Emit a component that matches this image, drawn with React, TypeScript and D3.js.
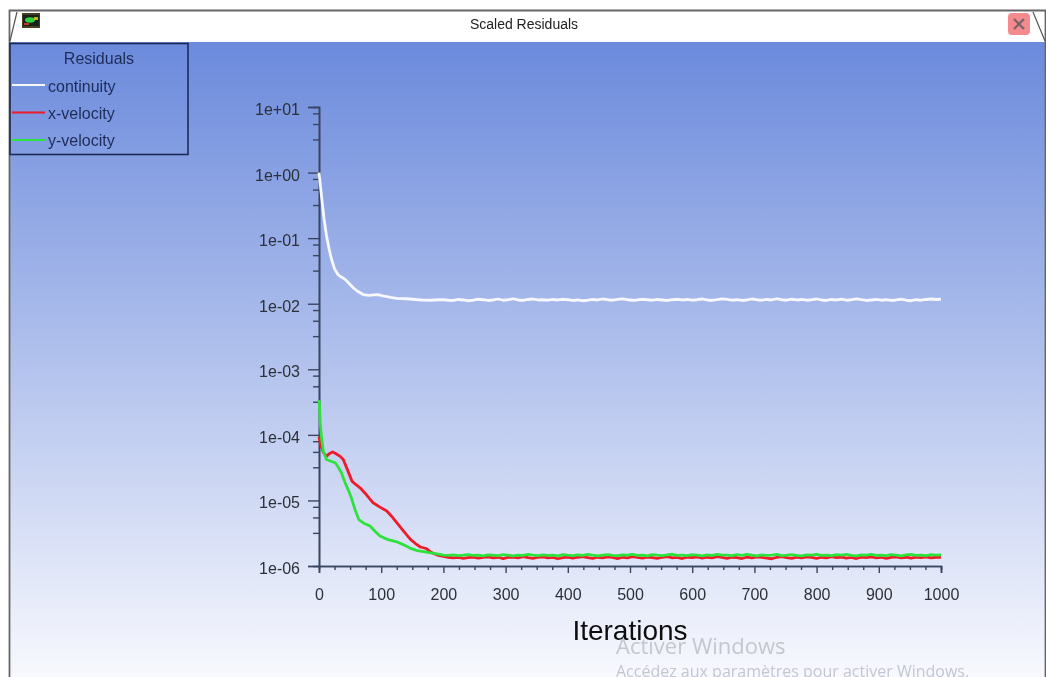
import React, { useRef, useEffect } from 'react'
import * as d3 from 'd3'

const WIDTH = 1046
const HEIGHT = 677
const FONT = '"Liberation Sans", Arial, sans-serif'

const xTicks = [0, 100, 200, 300, 400, 500, 600, 700, 800, 900, 1000]
const xMinorSteps = [25, 50, 75]
const yTicks = [1e1, 1e0, 1e-1, 1e-2, 1e-3, 1e-4, 1e-5, 1e-6]
const yMinorFactors = [0.8, 0.55, 0.32]

// early part of the run
const continuityHeadIter = [0, 2, 5, 8, 12, 16, 20, 25, 31, 36, 42, 48, 55, 62, 71, 80, 88, 95, 105, 115, 125, 140, 150, 165, 180, 192]
const continuityHead = [1.0, 0.66, 0.36, 0.2, 0.11, 0.07, 0.048, 0.034, 0.0275, 0.0255, 0.0235, 0.0205, 0.0175, 0.0155, 0.0138, 0.0134, 0.0136, 0.0138, 0.013, 0.0125, 0.0121, 0.0119, 0.0117, 0.0114, 0.0113, 0.0115]

const xVelocityHeadIter = [0, 1, 3, 7, 12, 17, 22, 28, 34, 39, 46, 53, 59, 66, 76, 87, 98, 109, 117, 125, 136, 147, 155, 163, 172, 181, 192]
const xVelocityHead = [9.4e-5, 8.2e-5, 6.9e-5, 5.4e-5, 4.7e-5, 5.2e-5, 5.5e-5, 5.1e-5, 4.7e-5, 4.2e-5, 2.9e-5, 1.97e-5, 1.75e-5, 1.56e-5, 1.23e-5, 9.2e-6, 7.9e-6, 6.9e-6, 5.7e-6, 4.6e-6, 3.4e-6, 2.55e-6, 2.2e-6, 1.95e-6, 1.85e-6, 1.6e-6, 1.45e-6]

const yVelocityHeadIter = [0, 1, 2, 4, 7, 12, 18, 26, 31, 36, 42, 47, 52, 58, 64, 72, 82, 90, 98, 110, 125, 136, 147, 158, 168, 180, 192]
const yVelocityHead = [3.4e-4, 2.6e-4, 1.5e-4, 9.1e-5, 5.6e-5, 4.2e-5, 4.0e-5, 3.76e-5, 3.2e-5, 2.64e-5, 1.86e-5, 1.45e-5, 1.1e-5, 7.2e-6, 5.1e-6, 4.5e-6, 4.07e-6, 3.4e-6, 2.86e-6, 2.55e-6, 2.34e-6, 2.1e-6, 1.86e-6, 1.72e-6, 1.66e-6, 1.58e-6, 1.52e-6]

// flat part, one reading every 8 iterations from 200 to 1000
const flatIter = d3.range(200, 1001, 8)
const continuityFlat = [1.15, 1.13, 1.12, 1.16, 1.14, 1.11, 1.13, 1.17, 1.15, 1.12, 1.14, 1.18, 1.13, 1.15, 1.19, 1.14, 1.12, 1.16, 1.18, 1.14, 1.15, 1.13, 1.16, 1.14, 1.17, 1.15, 1.12, 1.14, 1.11, 1.13, 1.16, 1.14, 1.18, 1.15, 1.13, 1.16, 1.19, 1.15, 1.13, 1.14, 1.17, 1.15, 1.13, 1.16, 1.14, 1.12, 1.15, 1.17, 1.14, 1.16, 1.13, 1.15, 1.18, 1.14, 1.12, 1.15, 1.19, 1.16, 1.13, 1.15, 1.12, 1.14, 1.18, 1.15, 1.13, 1.16, 1.14, 1.19, 1.15, 1.13, 1.17, 1.14, 1.16, 1.13, 1.15, 1.18, 1.14, 1.12, 1.16, 1.14, 1.17, 1.13, 1.15, 1.19, 1.15, 1.12, 1.14, 1.16, 1.13, 1.15, 1.12, 1.14, 1.17, 1.13, 1.11, 1.15, 1.13, 1.16, 1.18, 1.16, 1.17]
const xVelocityFlat = [1.4, 1.36, 1.33, 1.35, 1.31, 1.34, 1.37, 1.32, 1.35, 1.38, 1.33, 1.36, 1.3, 1.35, 1.37, 1.33, 1.39, 1.34, 1.31, 1.36, 1.38, 1.33, 1.35, 1.29, 1.34, 1.37, 1.32, 1.36, 1.39, 1.34, 1.31, 1.36, 1.33, 1.38, 1.35, 1.3, 1.36, 1.33, 1.39, 1.35, 1.32, 1.37, 1.34, 1.31, 1.36, 1.39, 1.33, 1.35, 1.3, 1.37, 1.34, 1.38, 1.32, 1.36, 1.33, 1.39, 1.35, 1.31, 1.36, 1.34, 1.3, 1.37, 1.33, 1.38, 1.35, 1.32, 1.29, 1.36, 1.39, 1.34, 1.31, 1.37, 1.33, 1.38, 1.35, 1.31, 1.36, 1.33, 1.39, 1.34, 1.37, 1.32, 1.35, 1.3, 1.37, 1.34, 1.38, 1.33, 1.36, 1.31, 1.35, 1.38, 1.33, 1.36, 1.32, 1.37, 1.34, 1.38, 1.33, 1.36, 1.35]
const yVelocityFlat = [1.47, 1.45, 1.48, 1.44, 1.46, 1.49, 1.45, 1.47, 1.43, 1.48, 1.46, 1.44, 1.49, 1.46, 1.43, 1.47, 1.45, 1.5, 1.46, 1.44, 1.48, 1.45, 1.47, 1.43, 1.49, 1.46, 1.44, 1.48, 1.45, 1.5, 1.46, 1.43, 1.47, 1.49, 1.45, 1.44, 1.48, 1.46, 1.51, 1.45, 1.47, 1.43, 1.49, 1.46, 1.44, 1.48, 1.51, 1.45, 1.47, 1.44, 1.49, 1.46, 1.43, 1.48, 1.45, 1.5, 1.46, 1.47, 1.44, 1.49, 1.45, 1.51, 1.46, 1.43, 1.48, 1.45, 1.47, 1.5, 1.44, 1.46, 1.49, 1.45, 1.43, 1.48, 1.46, 1.51, 1.45, 1.47, 1.44, 1.49, 1.46, 1.5, 1.45, 1.43, 1.48, 1.46, 1.51, 1.45, 1.47, 1.44, 1.49, 1.46, 1.43, 1.48, 1.5, 1.45, 1.47, 1.44, 1.49, 1.46, 1.48]

const join = (headIter: number[], head: number[], flat: number[], unit: number) =>
  [
    ...headIter.map((it, i) => [it, head[i]]),
    ...flatIter.map((it, i) => [it, flat[i] * unit]),
  ] as [number, number][]

const series = [
  { name: 'continuity', color: '#f6f8fd', points: join(continuityHeadIter, continuityHead, continuityFlat, 1e-2) },
  { name: 'x-velocity', color: '#ee1c2a', points: join(xVelocityHeadIter, xVelocityHead, xVelocityFlat, 1e-6) },
  { name: 'y-velocity', color: '#2fe23e', points: join(yVelocityHeadIter, yVelocityHead, yVelocityFlat, 1e-6) },
]

const x = d3.scaleLinear().domain([0, 1000]).range([319, 941])
const y = d3.scaleLog().domain([1e-6, 10]).range([566, 107])

const expLabel = (d: number) => {
  const e = Math.round(Math.log10(d))
  return `1e${e < 0 ? '-' : '+'}${String(Math.abs(e)).padStart(2, '0')}`
}

function Axes() {
  const ref = useRef<SVGGElement>(null)

  useEffect(() => {
    const g = d3.select(ref.current)
    g.selectAll('*').remove()

    const xMinor = xTicks.slice(0, -1).flatMap(t => xMinorSteps.map(s => t + s))
    const yMinor = yTicks.slice(0, -1).flatMap(t => yMinorFactors.map(f => t * f))

    const bottom = g.append('g').attr('transform', 'translate(0,566)')
    bottom.append('g').call(d3.axisBottom(x).tickValues(xMinor).tickSize(4).tickFormat(() => ''))
    bottom.append('g').call(d3.axisBottom(x).tickValues(xTicks).tickSize(7).tickPadding(16).tickFormat(d3.format('d')))

    const left = g.append('g').attr('transform', 'translate(319,0)')
    left.append('g').call(d3.axisLeft(y).tickValues(yMinor).tickSize(6).tickFormat(() => ''))
    left.append('g').call(d3.axisLeft(y).tickValues(yTicks).tickSize(11).tickPadding(8).tickFormat(expLabel))
    // the labels sit a little under their ticks
    left.selectAll('text').attr('dy', '0.47em')

    g.selectAll('path.domain').attr('stroke', '#3a4562').attr('stroke-width', 1.6)
    g.selectAll('line').attr('stroke', '#3a4562').attr('stroke-width', 1.4)
    g.selectAll('text').attr('font-family', FONT).attr('font-size', 16).attr('fill', '#2c3038')
  }, [])

  return <g ref={ref} />
}

export default function App() {
  const line = d3
    .line<[number, number]>()
    .x(d => x(d[0]))
    .y(d => y(d[1]))

  return (
    <svg
      width={WIDTH}
      height={HEIGHT}
      style={{ position: 'absolute', left: 0, top: 0, background: '#fff', fontFamily: FONT }}
    >
      <defs>
        <linearGradient id="plot-bg" x1="0" y1="0" x2="0" y2="1">
          <stop offset="0" stopColor="#6b8adc" />
          <stop offset="1" stopColor="#f8f9fe" />
        </linearGradient>
        <filter id="soft" x="-2%" y="-2%" width="104%" height="104%">
          <feGaussianBlur stdDeviation="0.55" />
        </filter>
      </defs>

      <rect x={9} y={42} width={1036} height={635} fill="url(#plot-bg)" />

      <g filter="url(#soft)">
        {/* window frame */}
        <path d="M9.5 677V10.5H1045.5V677" fill="none" stroke="#666" strokeWidth={1.8} />
        <path d="M17 12L10 41M1033 12L1045 41" fill="none" stroke="#555" strokeWidth={1.2} />
        <g>
          <rect x={22} y={13} width={18} height={15} fill="#4a3c20" />
          <rect x={23} y={15} width={16} height={11} fill="#16201c" />
          <ellipse cx={30} cy={20} rx={5} ry={2.8} fill="#2fd23a" />
          <rect x={34} y={17} width={4} height={3} fill="#c8b020" />
          <rect x={24} y={23} width={5} height={2} fill="#c03a20" />
        </g>
        <text x={524} y={29} fontSize={14} textAnchor="middle" fill="#222">
          Scaled Residuals
        </text>
        <rect x={1008} y={13} width={22} height={22} rx={4} fill="#f58a8e" />
        <path d="M1014 19L1024 29M1024 19L1014 29" stroke="#7c6468" strokeWidth={2.4} />

        {/* legend */}
        <rect x={10} y={43.5} width={178} height={111} fill="none" stroke="#1d2c58" strokeWidth={1.6} />
        <text x={99} y={64} fontSize={16} textAnchor="middle" fill="#1e2c58">
          Residuals
        </text>
        {series.map((s, i) => (
          <g key={s.name}>
            <line x1={12} x2={45} y1={85 + i * 27.5} y2={85 + i * 27.5} stroke={s.color} strokeWidth={2.2} />
            <text x={48} y={92 + i * 27.2} fontSize={16} fill="#1e2c58">
              {s.name}
            </text>
          </g>
        ))}

        <Axes />

        {series.map(s => (
          <path key={s.name} d={line(s.points) ?? ''} fill="none" stroke={s.color} strokeWidth={2.8} strokeLinejoin="round" />
        ))}

        {/* watermark sits under the axis title */}
        <text x={616} y={654} fontSize={22} fontFamily='"Open Sans", sans-serif' fill="#c3c7d0">
          Activer Windows
        </text>
        <text x={616} y={677} fontSize={16} fontFamily='"Open Sans", sans-serif' fill="#c3c7d0">
          Accédez aux paramètres pour activer Windows.
        </text>
        <text x={630} y={640} fontSize={28} textAnchor="middle" fill="#111">
          Iterations
        </text>
      </g>
    </svg>
  )
}
